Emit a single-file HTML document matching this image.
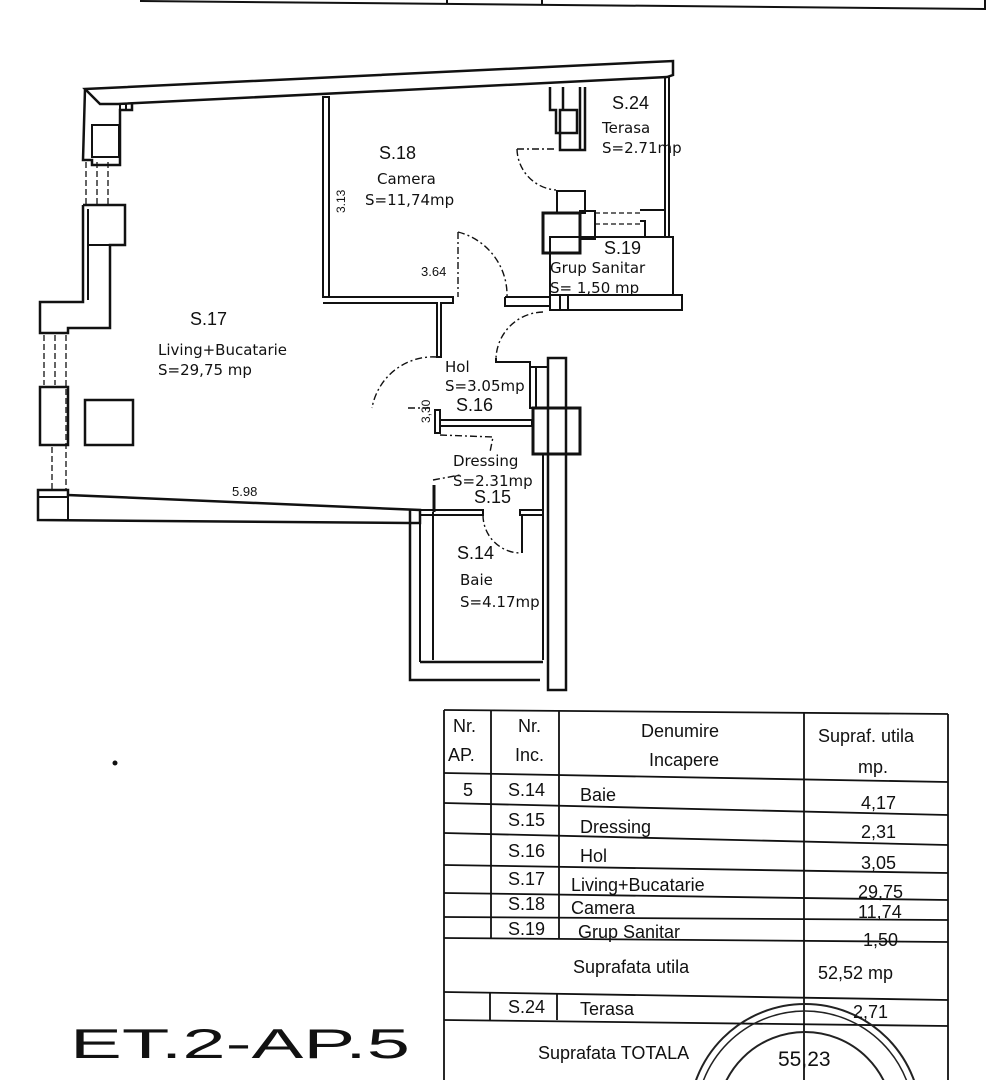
<!DOCTYPE html>
<html><head><meta charset="utf-8"><style>
html,body{margin:0;padding:0;background:#fff;width:990px;height:1080px;overflow:hidden}
svg{display:block}
.t{font-family:"Liberation Sans",sans-serif;fill:#111}
.p{font-family:"DejaVu Sans","Liberation Sans",sans-serif;fill:#111}
</style></head><body>
<svg width="990" height="1080" viewBox="0 0 990 1080" xmlns="http://www.w3.org/2000/svg">
<g stroke="#111" fill="none" stroke-width="2">
<polyline points="140,1 985,9 985,0"/>
<line x1="447" y1="0" x2="447" y2="4"/><line x1="542" y1="0" x2="542" y2="5"/>

<polygon points="85,89 673,61 673,75 667,77 118,104 100,104" stroke-width="2.5"/>
<polyline points="85,89 83,160 92,160 92,165 120,165 120,110 132,110 132,104" stroke-width="2.5"/>
<rect x="92" y="125" width="27" height="32"/>
<rect x="120" y="104" width="6" height="6"/>
<g stroke-dasharray="6,3" stroke-width="1.3"><line x1="86" y1="162" x2="86" y2="205"/><line x1="97" y1="162" x2="97" y2="205"/><line x1="108" y1="162" x2="108" y2="205"/></g>
<polyline points="83,205 83,302 40,302 40,333 68,333 68,328 110,328 110,245 125,245 125,205 83,205" stroke-width="2.5"/>
<line x1="88" y1="209" x2="88" y2="300"/>
<line x1="88" y1="245" x2="110" y2="245"/>
<g stroke-dasharray="6,3" stroke-width="1.3"><line x1="44" y1="335" x2="44" y2="385"/><line x1="55" y1="335" x2="55" y2="385"/><line x1="66" y1="335" x2="66" y2="490"/></g>
<rect x="40" y="387" width="28" height="58" stroke-width="2.5"/>
<g stroke-dasharray="6,3" stroke-width="1.3"><line x1="52" y1="447" x2="52" y2="490"/></g>
<rect x="85" y="400" width="48" height="45" stroke-width="2.5"/>
<polygon points="38,490 38,520 410,523 420,523 420,510 68,495 68,490" stroke-width="2.5"/>
<line x1="38" y1="497" x2="68" y2="497"/>
<line x1="68" y1="495" x2="68" y2="520"/>

<rect x="323" y="97" width="6" height="200"/>
<polyline points="323,297 453,297 453,303 441,303 441,357 437,357 437,303 323,303"/>
<polyline points="505,297 550,297 550,306 505,306 505,297"/>
<g stroke-dasharray="7,3,2,3" stroke-width="1.4">
<line x1="458" y1="232" x2="458" y2="297"/>
<path d="M458,232 A65,65 0 0 1 507,297"/>
</g>
<g stroke-width="2.5">
<polyline points="550,87 550,110 556,110 556,133 560,133 560,150 585,150 585,87"/>
<rect x="560" y="110" width="17" height="23"/>
<line x1="563" y1="87" x2="563" y2="110"/><line x1="580" y1="87" x2="580" y2="150"/>
</g>
<g stroke-dasharray="7,3,2,3" stroke-width="1.4">
<line x1="517" y1="149" x2="556" y2="149"/>
<path d="M517,149 A42,42 0 0 0 556,190"/>
</g>
<line x1="665" y1="77" x2="665" y2="237"/><line x1="669" y1="76" x2="669" y2="237"/>
<rect x="557" y="191" width="28" height="22" stroke-width="2"/>
<rect x="543" y="213" width="37" height="40" stroke-width="3"/>
<rect x="580" y="211" width="15" height="28"/>
<line x1="595" y1="213" x2="640" y2="213" stroke-dasharray="5,3" stroke-width="1.3"/>
<line x1="595" y1="224" x2="640" y2="224" stroke-dasharray="5,3" stroke-width="1.3"/>
<polyline points="640,210 665,210 665,237 645,237 645,221 640,221"/>
<rect x="550" y="237" width="123" height="58"/>
<rect x="550" y="295" width="132" height="15"/>
<line x1="560" y1="295" x2="560" y2="310"/>
<line x1="568" y1="295" x2="568" y2="310"/>
<g stroke-dasharray="7,3,2,3" stroke-width="1.4">
<path d="M543,312 A48,48 0 0 0 496,358"/>
<path d="M437,357 A62,62 0 0 0 372,408"/>
<line x1="408" y1="408" x2="432" y2="408"/>
<path d="M440,435 L493,437 L490,452"/>
<path d="M433,480 L460,475"/>
</g>
<polyline points="496,358 496,362 530,362 530,367"/>
<rect x="435" y="410" width="5" height="23" stroke-width="2"/>
<rect x="440" y="420" width="92" height="6"/>
<rect x="530" y="367" width="18" height="41"/>
<line x1="536" y1="367" x2="536" y2="408"/>
<rect x="548" y="358" width="18" height="332" stroke-width="2.5"/>
<rect x="533" y="408" width="47" height="46" stroke-width="3"/>
<line x1="543" y1="454" x2="543" y2="660"/>
<line x1="434" y1="485" x2="434" y2="512" stroke-width="3"/>
<rect x="420" y="510" width="63" height="5"/>
<rect x="520" y="510" width="23" height="5"/>
<g stroke-dasharray="7,3,2,3" stroke-width="1.4"><path d="M483,515 A38,38 0 0 0 520,553"/></g>
<line x1="522" y1="515" x2="522" y2="553" stroke-width="2"/>
<polyline points="410,510 410,680 540,680" stroke-width="2.5"/>
<line x1="420" y1="512" x2="420" y2="662"/>
<line x1="433" y1="512" x2="433" y2="660"/>
<line x1="420" y1="662" x2="543" y2="662" stroke-width="2.5"/>

<g stroke-width="1.8">
<line x1="444" y1="710" x2="948" y2="714"/>
<line x1="444" y1="710" x2="444" y2="1080"/>
<line x1="491" y1="710" x2="491" y2="938"/>
<line x1="559" y1="711" x2="559" y2="938"/>
<line x1="804" y1="712" x2="804" y2="1080"/>
<line x1="948" y1="714" x2="948" y2="1080"/>
<line x1="444" y1="773" x2="948" y2="782"/>
<line x1="444" y1="803" x2="948" y2="815"/>
<line x1="444" y1="833" x2="948" y2="845"/>
<line x1="444" y1="865" x2="948" y2="873"/>
<line x1="444" y1="893" x2="948" y2="900"/>
<line x1="444" y1="917" x2="948" y2="920"/>
<line x1="444" y1="938" x2="948" y2="942"/>
<line x1="444" y1="992" x2="948" y2="1000"/>
<line x1="444" y1="1020" x2="948" y2="1026"/>
<line x1="490" y1="993" x2="490" y2="1020"/>
<line x1="557" y1="994" x2="557" y2="1020"/>
</g>
<g stroke="#222" stroke-width="2">
<circle cx="805" cy="1120" r="116"/>
<circle cx="805" cy="1120" r="109" stroke-width="1.5"/>
<circle cx="805" cy="1120" r="88"/>
</g>
</g>
<circle cx="115" cy="763" r="2.5" fill="#111"/>

<text class="t" x="379" y="159" font-size="18">S.18</text>
<text class="p" x="377" y="184" font-size="15">Camera</text>
<text class="p" x="365" y="205" font-size="15">S=11,74mp</text>
<text class="t" x="345" y="213" font-size="12" transform="rotate(-90 345 213)">3.13</text>
<text class="t" x="612" y="109" font-size="18">S.24</text>
<text class="p" x="602" y="133" font-size="15">Terasa</text>
<text class="p" x="602" y="153" font-size="15">S=2.71mp</text>
<text class="t" x="604" y="254" font-size="18">S.19</text>
<text class="p" x="550" y="273" font-size="15">Grup Sanitar</text>
<text class="p" x="550" y="293" font-size="15">S= 1,50 mp</text>
<text class="t" x="421" y="276" font-size="13">3.64</text>
<text class="t" x="190" y="325" font-size="18">S.17</text>
<text class="p" x="158" y="355" font-size="15">Living+Bucatarie</text>
<text class="p" x="158" y="375" font-size="15">S=29,75 mp</text>
<text class="p" x="445" y="372" font-size="15">Hol</text>
<text class="p" x="445" y="391" font-size="15">S=3.05mp</text>
<text class="t" x="456" y="411" font-size="18">S.16</text>
<text class="t" x="430" y="423" font-size="12" transform="rotate(-90 430 423)">3,30</text>
<text class="p" x="453" y="466" font-size="15">Dressing</text>
<text class="p" x="453" y="486" font-size="15">S=2.31mp</text>
<text class="t" x="474" y="503" font-size="18">S.15</text>
<text class="t" x="232" y="496" font-size="13">5.98</text>
<text class="t" x="457" y="559" font-size="18">S.14</text>
<text class="p" x="460" y="585" font-size="15">Baie</text>
<text class="p" x="460" y="607" font-size="15">S=4.17mp</text>

<g class="t" font-size="18">
<text x="453" y="732">Nr.</text><text x="448" y="761">AP.</text>
<text x="518" y="732">Nr.</text><text x="515" y="761">Inc.</text>
<text x="641" y="737">Denumire</text><text x="649" y="766">Incapere</text>
<text x="818" y="742">Supraf. utila</text><text x="858" y="773">mp.</text>
<text x="463" y="796">5</text>
<text x="508" y="796">S.14</text><text x="580" y="801">Baie</text><text x="861" y="809">4,17</text>
<text x="508" y="826">S.15</text><text x="580" y="833">Dressing</text><text x="861" y="838">2,31</text>
<text x="508" y="857">S.16</text><text x="580" y="862">Hol</text><text x="861" y="869">3,05</text>
<text x="508" y="885">S.17</text><text x="571" y="891">Living+Bucatarie</text><text x="858" y="898">29,75</text>
<text x="508" y="910">S.18</text><text x="571" y="914">Camera</text><text x="858" y="918">11,74</text>
<text x="508" y="935">S.19</text><text x="578" y="938">Grup Sanitar</text><text x="863" y="946">1,50</text>
<text x="573" y="973">Suprafata utila</text><text x="818" y="979">52,52 mp</text>
<text x="508" y="1013">S.24</text><text x="580" y="1015">Terasa</text><text x="853" y="1018">2,71</text>
<text x="538" y="1059">Suprafata TOTALA</text><text x="778" y="1066" font-size="21">55,23</text>
</g>
<text class="t" x="70" y="1058" font-size="42" textLength="340" lengthAdjust="spacingAndGlyphs">ET.2-AP.5</text>
</svg>
</body></html>
